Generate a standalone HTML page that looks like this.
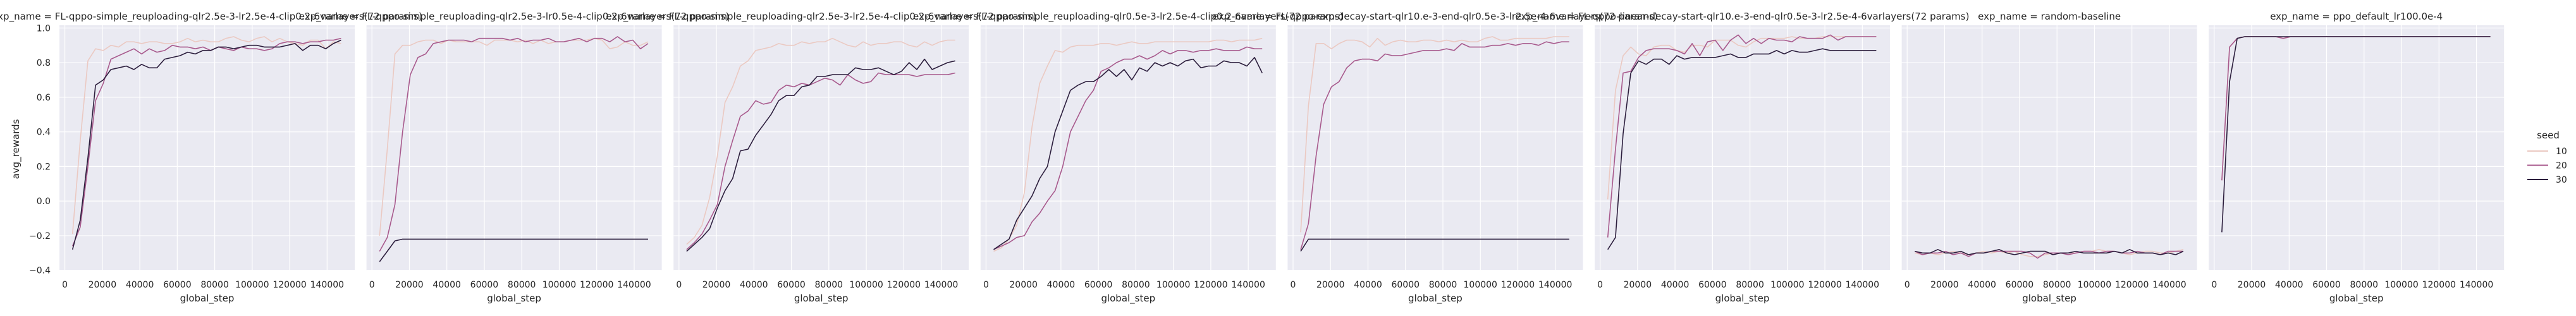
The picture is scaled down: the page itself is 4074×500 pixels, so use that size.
<!DOCTYPE html>
<html><head><meta charset="utf-8">
<style>
html,body{margin:0;padding:0;background:#fff;}
svg{display:block;font-family:"DejaVu Sans","Liberation Sans",sans-serif;}
</style></head>
<body>
<svg id="chart" width="4074" height="500" xmlns="http://www.w3.org/2000/svg"></svg>
<script>
const panelTitles = [
"exp_name = FL-qppo-simple_reuploading-qlr2.5e-3-lr2.5e-4-clip0.2-6varlayers(72 params)",
"exp_name = FL-qppo-simple_reuploading-qlr2.5e-3-lr0.5e-4-clip0.2-6varlayers(72 params)",
"exp_name = FL-qppo-simple_reuploading-qlr2.5e-3-lr2.5e-4-clip0.2-6varlayers(72 params)",
"exp_name = FL-qppo-simple_reuploading-qlr0.5e-3-lr2.5e-4-clip0.2-6varlayers(72 params)",
"exp_name = FL-qppo-exp-decay-start-qlr10.e-3-end-qlr0.5e-3-lr2.5e-4-6varlayers(72 params)",
"exp_name = FL-qppo-linear-decay-start-qlr10.e-3-end-qlr0.5e-3-lr2.5e-4-6varlayers(72 params)",
"exp_name = random-baseline",
"exp_name = ppo_default_lr100.0e-4"];
const seeds = ["10","20","30"];
const stepSize = 4096;
const xTicks = [0,20000,40000,60000,80000,100000,120000,140000];
const yTicks = [1.0,0.8,0.6,0.4,0.2,0.0,-0.2,-0.4];
const yTickLabels = ["1.0","0.8","0.6","0.4","0.2","0.0","\u22120.2","\u22120.4"];
const p1s10 = [-0.19,0.35,0.81,0.88,0.87,0.90,0.89,0.92,0.92,0.91,0.92,0.92,0.91,0.91,0.92,0.94,0.92,0.93,0.92,0.92,0.94,0.95,0.93,0.92,0.94,0.95,0.92,0.94,0.92,0.91,0.90,0.93,0.93,0.88,0.92,0.91];
const p1s20 = [-0.26,-0.15,0.20,0.58,0.68,0.82,0.84,0.86,0.88,0.85,0.88,0.86,0.87,0.90,0.89,0.89,0.88,0.89,0.87,0.89,0.88,0.87,0.89,0.88,0.88,0.87,0.88,0.91,0.92,0.92,0.91,0.92,0.92,0.93,0.93,0.94];
const p1s30 = [-0.28,-0.11,0.25,0.67,0.70,0.76,0.77,0.78,0.76,0.79,0.77,0.77,0.82,0.83,0.84,0.86,0.85,0.87,0.87,0.89,0.89,0.88,0.89,0.90,0.90,0.89,0.89,0.89,0.90,0.91,0.87,0.90,0.90,0.88,0.91,0.93];
const p2s10 = [-0.20,0.30,0.85,0.90,0.90,0.92,0.93,0.93,0.91,0.93,0.92,0.92,0.92,0.92,0.90,0.93,0.93,0.93,0.92,0.93,0.91,0.93,0.91,0.92,0.92,0.93,0.93,0.93,0.94,0.93,0.88,0.89,0.92,0.90,0.90,0.92];
const p2s20 = [-0.29,-0.21,-0.02,0.40,0.73,0.83,0.85,0.91,0.92,0.93,0.93,0.93,0.92,0.94,0.94,0.94,0.94,0.93,0.94,0.92,0.93,0.93,0.94,0.92,0.92,0.93,0.94,0.92,0.94,0.94,0.92,0.95,0.92,0.93,0.88,0.91];
const p2s30 = [-0.35,-0.29,-0.23,-0.22,-0.22,-0.22,-0.22,-0.22,-0.22,-0.22,-0.22,-0.22,-0.22,-0.22,-0.22,-0.22,-0.22,-0.22,-0.22,-0.22,-0.22,-0.22,-0.22,-0.22,-0.22,-0.22,-0.22,-0.22,-0.22,-0.22,-0.22,-0.22,-0.22,-0.22,-0.22,-0.22];
const p3s10 = [-0.25,-0.21,-0.14,0.02,0.26,0.57,0.66,0.78,0.81,0.87,0.88,0.89,0.91,0.90,0.90,0.92,0.91,0.92,0.92,0.94,0.92,0.90,0.89,0.92,0.90,0.91,0.91,0.92,0.92,0.90,0.89,0.92,0.90,0.92,0.93,0.93];
const p3s20 = [-0.28,-0.24,-0.19,-0.11,-0.02,0.20,0.35,0.49,0.52,0.58,0.56,0.57,0.64,0.67,0.66,0.68,0.67,0.69,0.71,0.70,0.67,0.73,0.70,0.68,0.69,0.74,0.73,0.73,0.73,0.73,0.72,0.73,0.73,0.73,0.73,0.74];
const p3s30 = [-0.29,-0.25,-0.21,-0.16,-0.04,0.06,0.13,0.29,0.30,0.38,0.44,0.50,0.58,0.61,0.61,0.66,0.67,0.72,0.72,0.73,0.73,0.73,0.77,0.76,0.76,0.77,0.75,0.73,0.75,0.80,0.76,0.82,0.76,0.78,0.80,0.81];
const p4s10 = [-0.29,-0.27,-0.22,-0.14,0.05,0.43,0.68,0.78,0.87,0.86,0.89,0.90,0.90,0.90,0.91,0.91,0.90,0.91,0.92,0.91,0.91,0.92,0.92,0.92,0.92,0.92,0.92,0.92,0.92,0.93,0.93,0.92,0.93,0.93,0.93,0.94];
const p4s20 = [-0.28,-0.26,-0.24,-0.21,-0.20,-0.12,-0.07,0.00,0.06,0.20,0.40,0.49,0.58,0.64,0.75,0.77,0.80,0.82,0.82,0.84,0.82,0.84,0.87,0.85,0.87,0.87,0.86,0.87,0.87,0.88,0.87,0.87,0.87,0.89,0.88,0.88];
const p4s30 = [-0.28,-0.25,-0.22,-0.11,-0.04,0.03,0.13,0.20,0.40,0.52,0.64,0.67,0.69,0.69,0.72,0.76,0.72,0.76,0.70,0.77,0.75,0.80,0.78,0.80,0.78,0.81,0.82,0.77,0.78,0.78,0.81,0.80,0.80,0.78,0.83,0.74];
const p5s10 = [-0.18,0.55,0.91,0.91,0.88,0.91,0.93,0.93,0.92,0.89,0.94,0.90,0.92,0.93,0.92,0.92,0.93,0.93,0.92,0.93,0.92,0.93,0.92,0.92,0.94,0.95,0.93,0.93,0.94,0.94,0.94,0.94,0.94,0.95,0.95,0.95];
const p5s20 = [-0.28,-0.13,0.26,0.56,0.66,0.69,0.77,0.81,0.82,0.82,0.81,0.85,0.84,0.84,0.85,0.86,0.87,0.87,0.87,0.88,0.87,0.91,0.89,0.89,0.89,0.90,0.90,0.91,0.90,0.91,0.91,0.90,0.92,0.91,0.92,0.92];
const p5s30 = [-0.29,-0.22,-0.22,-0.22,-0.22,-0.22,-0.22,-0.22,-0.22,-0.22,-0.22,-0.22,-0.22,-0.22,-0.22,-0.22,-0.22,-0.22,-0.22,-0.22,-0.22,-0.22,-0.22,-0.22,-0.22,-0.22,-0.22,-0.22,-0.22,-0.22,-0.22,-0.22,-0.22,-0.22,-0.22,-0.22];
const p6s10 = [0.01,0.64,0.84,0.89,0.85,0.84,0.89,0.90,0.90,0.87,0.86,0.90,0.90,0.89,0.93,0.93,0.93,0.90,0.89,0.92,0.94,0.94,0.94,0.94,0.95,0.94,0.94,0.94,0.95,0.95,0.95,0.95,0.95,0.95,0.95,0.95];
const p6s20 = [-0.21,0.30,0.74,0.75,0.83,0.87,0.88,0.88,0.88,0.87,0.85,0.91,0.84,0.92,0.93,0.87,0.93,0.96,0.91,0.94,0.91,0.94,0.93,0.93,0.92,0.95,0.94,0.94,0.94,0.96,0.93,0.95,0.95,0.95,0.95,0.95];
const p6s30 = [-0.28,-0.21,0.39,0.74,0.81,0.79,0.82,0.82,0.79,0.84,0.82,0.83,0.83,0.83,0.83,0.84,0.85,0.83,0.83,0.85,0.85,0.85,0.87,0.85,0.87,0.86,0.86,0.87,0.88,0.87,0.87,0.87,0.87,0.87,0.87,0.87];
const p7s10 = [-0.30,-0.31,-0.30,-0.31,-0.30,-0.29,-0.30,-0.31,-0.30,-0.29,-0.30,-0.29,-0.30,-0.29,-0.31,-0.32,-0.32,-0.31,-0.30,-0.30,-0.30,-0.30,-0.29,-0.29,-0.28,-0.29,-0.29,-0.30,-0.31,-0.30,-0.29,-0.29,-0.30,-0.30,-0.29,-0.28];
const p7s20 = [-0.29,-0.31,-0.30,-0.30,-0.29,-0.31,-0.30,-0.32,-0.30,-0.30,-0.29,-0.29,-0.29,-0.29,-0.29,-0.30,-0.33,-0.30,-0.30,-0.30,-0.31,-0.30,-0.29,-0.29,-0.30,-0.29,-0.29,-0.30,-0.30,-0.29,-0.30,-0.30,-0.31,-0.29,-0.29,-0.29];
const p7s30 = [-0.29,-0.30,-0.30,-0.28,-0.30,-0.30,-0.29,-0.31,-0.30,-0.30,-0.29,-0.28,-0.30,-0.31,-0.30,-0.29,-0.29,-0.29,-0.31,-0.30,-0.30,-0.29,-0.30,-0.30,-0.30,-0.30,-0.29,-0.30,-0.28,-0.30,-0.30,-0.30,-0.31,-0.30,-0.31,-0.29];
const p8s10 = [0.12,0.89,0.94,0.95,0.95,0.95,0.95,0.95,0.94,0.95,0.95,0.95,0.95,0.95,0.95,0.95,0.95,0.95,0.95,0.95,0.95,0.95,0.95,0.95,0.95,0.95,0.95,0.95,0.95,0.95,0.95,0.95,0.95,0.95,0.95,0.95];
const p8s20 = [0.12,0.89,0.94,0.95,0.95,0.95,0.95,0.95,0.94,0.95,0.95,0.95,0.95,0.95,0.95,0.95,0.95,0.95,0.95,0.95,0.95,0.95,0.95,0.95,0.95,0.95,0.95,0.95,0.95,0.95,0.95,0.95,0.95,0.95,0.95,0.95];
const p8s30 = [-0.18,0.69,0.94,0.95,0.95,0.95,0.95,0.95,0.95,0.95,0.95,0.95,0.95,0.95,0.95,0.95,0.95,0.95,0.95,0.95,0.95,0.95,0.95,0.95,0.95,0.95,0.95,0.95,0.95,0.95,0.95,0.95,0.95,0.95,0.95,0.95];

const panelSeries = [[p1s10,p1s20,p1s30],[p2s10,p2s20,p2s30],[p3s10,p3s20,p3s30],[p4s10,p4s20,p4s30],[p5s10,p5s20,p5s30],[p6s10,p6s20,p6s30],[p7s10,p7s20,p7s30],[p8s10,p8s20,p8s30]];
const colors = ["#ebc9c2","#a85a8d","#2c1e3d"];

const NS="http://www.w3.org/2000/svg";
const svg=document.getElementById('chart');
function mk(tag,attrs,parent){const e=document.createElementNS(NS,tag);for(const k in attrs)e.setAttribute(k,attrs[k]);(parent||svg).appendChild(e);return e;}
const PW=467, PT=40, PB=428, PSTEP=485.6, PL0=94;
function xScale(p,x){return PL0+p*PSTEP+8.6+x/20000*59.25;}
function yScale(v){return 44.3+(1.0-v)/0.2*54.77;}

for(let p=0;p<8;p++){
  const g=mk('g',{});
  
  
  const left=PL0+p*PSTEP;
  const bg=mk('rect',{x:left,y:PT,width:PW,height:PB-PT,fill:'#eaeaf2'},g);
  
  
  xTicks.forEach(t=>{const X=xScale(p,t);
    mk('line',{x1:X,x2:X,y1:PT,y2:PB,stroke:'#fff','stroke-width':1.2},g);
    const tl=mk('text',{x:X,y:455,'text-anchor':'middle','font-size':14,fill:'#262626'},g);
    tl.textContent=t;
    
    
  });
  yTicks.forEach((t,i)=>{const Y=yScale(t);
    mk('line',{x1:left,x2:left+PW,y1:Y,y2:Y,stroke:'#fff','stroke-width':1.2},g);
    if(p===0){const tl=mk('text',{x:80,y:Y+5,'text-anchor':'end','font-size':14,fill:'#262626'},g);
      tl.textContent=yTickLabels[i];
      
      }
  });
  const xl=mk('text',{x:left+PW/2,y:477,'text-anchor':'middle','font-size':15,fill:'#262626'},g);
  xl.textContent='global_step';
  
  
  const tt=mk('text',{x:left+PW/2,y:31,'text-anchor':'middle','font-size':15,fill:'#262626'},g);
  tt.textContent=panelTitles[p];
  
  
  panelSeries[p].forEach((vals,s)=>{
    const pts=vals.map((v,i)=>xScale(p,(i+1)*stepSize).toFixed(1)+','+yScale(v).toFixed(1)).join(' ');
    const pl=mk('polyline',{points:pts,fill:'none',stroke:colors[s],'stroke-width':1.6,'stroke-linejoin':'round'},g);
    
    
  });
}
const yl=mk('text',{x:0,y:0,transform:'translate(30,236) rotate(-90)','text-anchor':'middle','font-size':15,fill:'#262626'});
yl.textContent='avg_rewards';


const lg=mk('g',{});


const lt=mk('text',{x:4030,y:219,'text-anchor':'middle','font-size':15,fill:'#262626'},lg);
lt.textContent='seed';


seeds.forEach((s,i)=>{const Y=239+i*22.5;
  const ln=mk('line',{x1:3997,x2:4030,y1:Y,y2:Y,stroke:colors[i],'stroke-width':2},lg);
  
  
  const tx=mk('text',{x:4042,y:Y+5,'font-size':14,fill:'#262626'},lg);
  tx.textContent=s;
  
  
});
</script>
</body></html>
